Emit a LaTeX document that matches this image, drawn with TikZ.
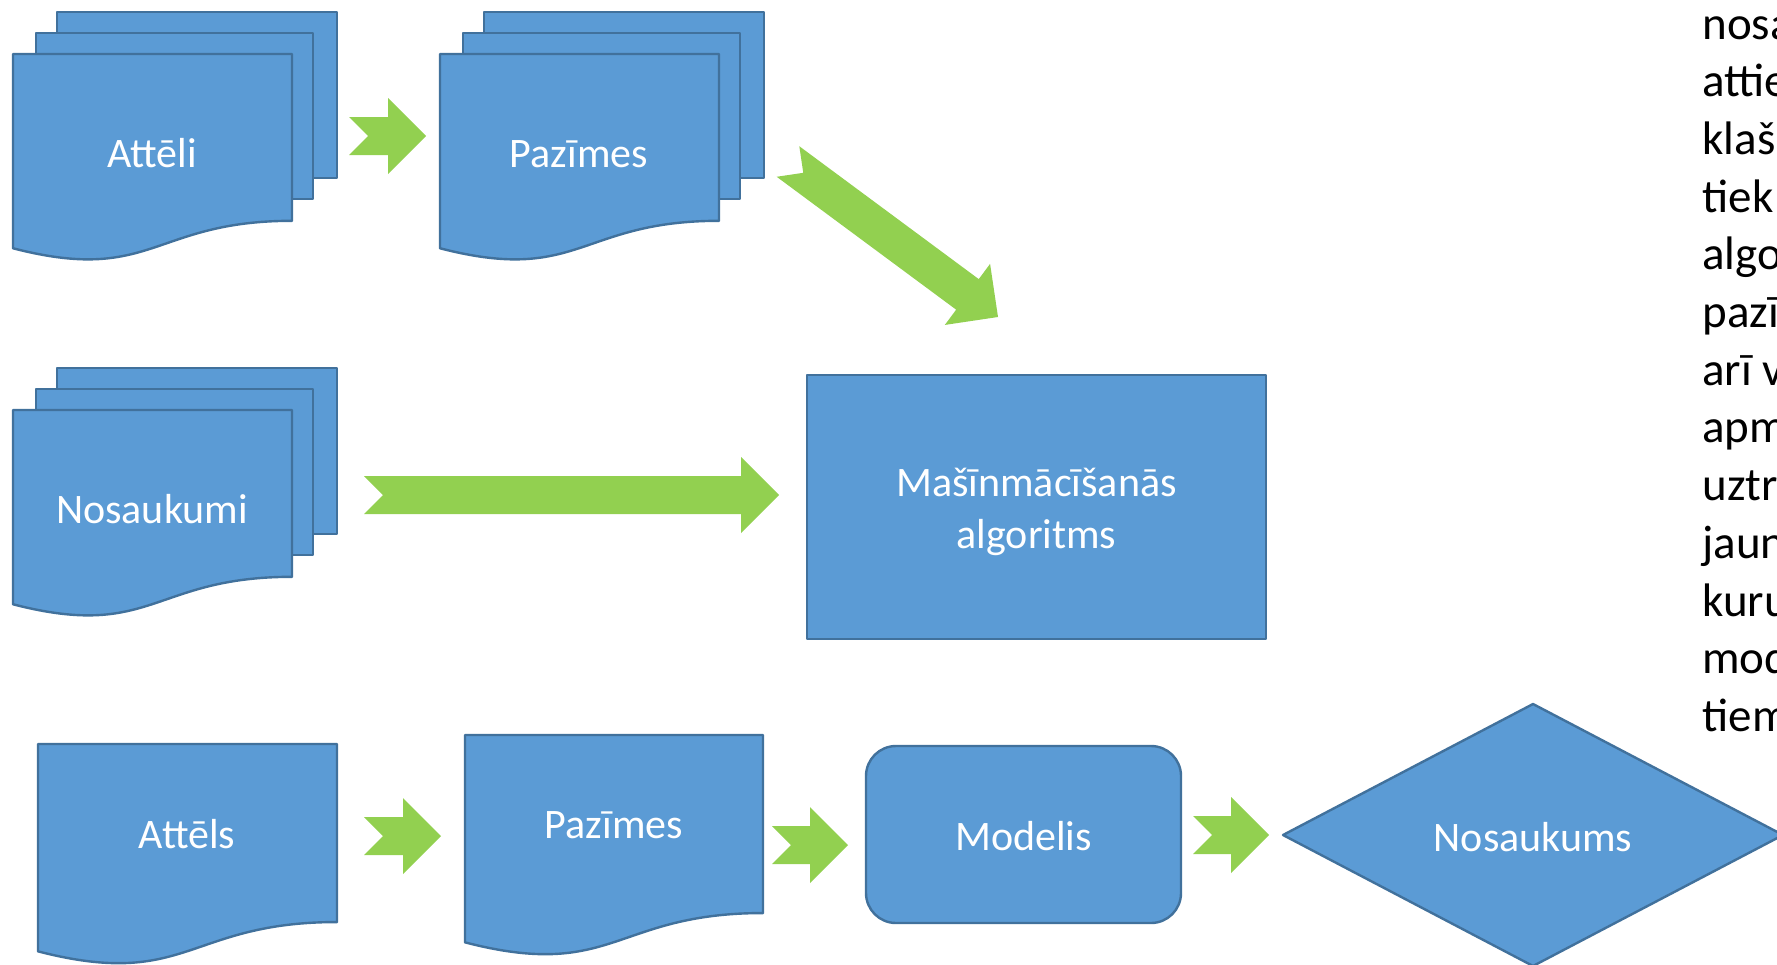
\documentclass[tikz,border=0pt]{standalone}
\usepackage{fontspec}
\setmainfont{Carlito}
\usetikzlibrary{calc}
\definecolor{boxblue}{HTML}{5B9BD5}
\definecolor{edgeblue}{HTML}{41719C}
\definecolor{arrowgreen}{HTML}{92D050}
\tikzset{
  shapebox/.style={fill=boxblue, draw=edgeblue, line width=1.2pt, line join=round},
  lbl/.style={text=white, font=\fontsize{21pt}{25.6pt}\selectfont, inner sep=0pt, anchor=base, align=center},
  sidetext/.style={text=black, font=\fontsize{23.5pt}{28.7pt}\selectfont, inner sep=0pt, anchor=base west},
}
% document shape: x y w H
\newcommand{\docpath}[4]{%
  \filldraw[shapebox] (#1,#2) -- ({#1+#3},#2) -- ({#1+#3},{#2+0.802*#4})
    .. controls ({#1+0.5*#3},{#2+0.802*#4}) and ({#1+0.5*#3},{#2+1.1075*#4}) .. (#1,{#2+0.934*#4}) -- cycle;}
% stacked documents, offset dx dy
\newcommand{\stackdoc}[2]{%
  \filldraw[shapebox] ({57+#1},{12+#2}) rectangle ({337+#1},{178+#2});
  \filldraw[shapebox] ({36+#1},{33+#2}) rectangle ({313+#1},{199+#2});
  \docpath{13+#1}{54+#2}{279}{208}}
% notched block arrow from tail coordinate #1 to tip coordinate #2
\newcommand{\garrow}[2]{%
  \path ($(#2)!19pt!(#1)$) coordinate (#1-hb);
  \fill[arrowgreen] ($(#1)!9.5pt!90:(#2)$) -- ($(#1)!9.5pt!(#2)$) -- ($(#1)!9.5pt!-90:(#2)$)
    -- ($(#1-hb)!9.5pt!-90:(#2)$) -- ($(#1-hb)!19pt!-90:(#2)$) -- (#2)
    -- ($(#1-hb)!19pt!90:(#2)$) -- ($(#1-hb)!9.5pt!90:(#2)$) -- cycle;}
\begin{document}
\begin{tikzpicture}[x=0.5pt,y=-0.5pt]
\clip (0,0) rectangle (1777,964);
\fill[white] (0,0) rectangle (1777,964);

% top row stacks
\stackdoc{0}{0}
\node[lbl] (atteli) at (152,167) {Attēli};
\stackdoc{427}{0}
\node[lbl] (pazimesA) at (579,167) {Pazīmes};
% middle stack
\stackdoc{0}{356}
\node[lbl] (nosaukumi) at (152,523) {Nosaukumi};

% algorithm box
\filldraw[shapebox] (807,375) rectangle (1266,639);
\node[lbl, anchor=center] (alg) at (1036.5,512) {Mašīnmācīšanās\\algoritms};

% bottom row
\docpath{38}{744}{299}{222}
\node[lbl] (attels) at (187,848) {Attēls};
\docpath{465}{735}{298}{222}
\node[lbl] (pazimesB) at (614,838) {Pazīmes};
\filldraw[shapebox, rounded corners=15pt] (866,746) rectangle (1181,923);
\node[lbl] (modelis) at (1023.5,850) {Modelis};
\filldraw[shapebox] (1283,835) -- (1533,704) -- (1783,835) -- (1533,966) -- cycle;
\node[lbl] (nosaukums) at (1533,851) {Nosaukums};

% arrows
\coordinate (a1t) at (349,136);  \coordinate (a1h) at (426,136);
\coordinate (a2t) at (788,161.5); \coordinate (a2h) at (998,317);
\coordinate (a3t) at (364,495);  \coordinate (a3h) at (779,495);
\coordinate (a4t) at (364,836);  \coordinate (a4h) at (441,836);
\coordinate (a5t) at (772,845);  \coordinate (a5h) at (848,845);
\coordinate (a6t) at (1193,835); \coordinate (a6h) at (1269,835);
\garrow{a1t}{a1h}
\garrow{a2t}{a2h}
\garrow{a3t}{a3h}
\garrow{a4t}{a4h}
\garrow{a5t}{a5h}
\garrow{a6t}{a6h}

% right side text (cut by the page edge)
\foreach \w [count=\i from 0] in {nosa,attie,klaš,tiek,algo,pazī,arī v,apm,uztr,jaun,kuru,mod,tiem}{
  \node[sidetext] (rt\i) at (1702,{39+57.7*\i}) {\w};
}
\end{tikzpicture}
\end{document}
